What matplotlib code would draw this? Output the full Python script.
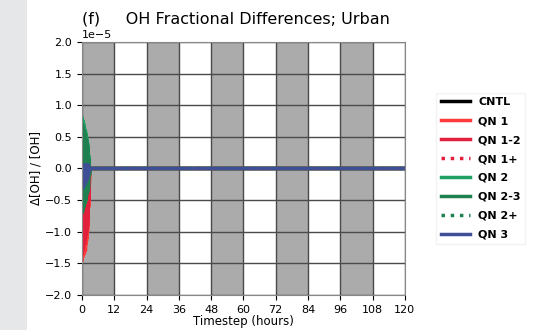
import numpy as np
import matplotlib
matplotlib.use("Agg")
from matplotlib import pyplot as plt
from matplotlib.patches import Rectangle

# time in hours (fast spin-up near t=0, then flat until 120 h)
hours = [0, 0.1, 0.2, 0.3, 0.4, 0.5, 0.6, 0.7, 0.8, 0.9, 1.0, 1.1, 1.2, 1.3, 1.4, 1.5,
         1.6, 1.7, 1.8, 1.9, 2.0, 2.1, 2.2, 2.3, 2.4, 2.6, 2.8, 3.0, 120]

# fractional differences, units of 1e-5
cntl = [0] * 29
qn1  = [0, -1.45, -0.4, -1.4, -0.35, -1.35, -0.45, -1.3, -0.4, -1.35, -0.5, -1.25, -0.45,
        -1.3, -0.5, -1.2, -0.4, -1.15, -0.45, -1.1, -0.35, -1.0, -0.4, -0.9, -0.3, -0.6, -0.2, 0, 0]
qn12 = [0, -1.35, -0.35, -1.3, -0.4, -1.25, -0.35, -1.2, -0.45, -1.2, -0.4, -1.15, -0.45,
        -1.1, -0.4, -1.05, -0.35, -1.0, -0.4, -0.95, -0.3, -0.9, -0.35, -0.8, -0.3, -0.5, -0.15, 0, 0]
qn1p = [0, -1.2, -0.3, -1.15, -0.35, -1.1, -0.3, -1.05, -0.35, -1.0, -0.3, -0.95, -0.35,
        -0.9, -0.3, -0.85, -0.3, -0.8, -0.3, -0.75, -0.25, -0.7, -0.25, -0.6, -0.2, -0.4, -0.1, 0, 0]
qn2  = [0, 0.8, -0.65, 0.75, -0.6, 0.75, -0.55, 0.7, -0.6, 0.65, -0.5, 0.6, -0.55,
        0.6, -0.45, 0.55, -0.5, 0.5, -0.4, 0.45, -0.4, 0.4, -0.35, 0.35, -0.3, 0.2, -0.1, 0, 0]
qn23 = [0, 0.7, -0.7, 0.65, -0.65, 0.65, -0.6, 0.6, -0.6, 0.55, -0.55, 0.55, -0.5,
        0.5, -0.5, 0.45, -0.45, 0.45, -0.4, 0.4, -0.4, 0.35, -0.35, 0.3, -0.3, 0.15, -0.1, 0, 0]
qn2p = [0, 0.6, -0.55, 0.55, -0.5, 0.55, -0.5, 0.5, -0.45, 0.5, -0.45, 0.45, -0.4,
        0.45, -0.4, 0.4, -0.35, 0.4, -0.35, 0.35, -0.3, 0.3, -0.3, 0.25, -0.2, 0.1, -0.05, 0, 0]
qn3  = [0, -0.3, 0.05, -0.3, 0.0, -0.3, 0.05, -0.25, 0.0, -0.25, 0.05, -0.25, 0.05,
        -0.2, 0.05, -0.2, 0.05, -0.2, 0.05, -0.15, 0.05, -0.15, 0.05, -0.1, 0.05, -0.05, 0, 0, 0]

labels = ["CNTL", "QN 1", "QN 1-2", "QN 1+", "QN 2", "QN 2-3", "QN 2+", "QN 3"]
colors = ["black", "#ff3a3a", "#e3203c", "#e3203c", "#1fa060", "#1f8050", "#1f8050", "#3f4f95"]
styles = ["-", "-", "-", ":", "-", "-", ":", "-"]
series = [cntl, qn1, qn12, qn1p, qn2, qn23, qn2p, qn3]

night_starts = [0, 24, 48, 72, 96]

fig = plt.figure(figsize=(5.39, 3.30), dpi=100)
# grey strip on the left of the screenshot
fig.patches.append(Rectangle((0, 0), 27 / 539, 1, transform=fig.transFigure,
                             facecolor="#e6e7e8", edgecolor="none", zorder=0))
ax = fig.add_axes([0.152, 0.106, 0.599, 0.767])

for s in night_starts:
    ax.axvspan(s, s + 12, color="#ababab", zorder=0, lw=0)

for vals, lab, c, ls in zip(series, labels, colors, styles):
    ax.plot(hours, np.array(vals) * 1e-5, color=c, linestyle=ls, linewidth=2.5, label=lab)

ax.set_xlim(0, 120)
ax.set_ylim(-2e-5, 2e-5)
ax.set_xticks(range(0, 121, 12))
ax.set_yticks(np.arange(-2, 2.01, 0.5) * 1e-5)
ax.grid(True, color="#4a4a4a", linewidth=1.0, zorder=1)
ax.set_axisbelow(True)
ax.tick_params(labelsize=8)
ax.yaxis.get_offset_text().set_fontsize(8)
for sp in ax.spines.values():
    sp.set_color("#888888")

ax.set_xlabel("Timestep (hours)", fontsize=8.5, labelpad=0)
ax.set_ylabel("Δ[OH] / [OH]", fontsize=8.5, labelpad=2)
ax.set_title("(f)     OH Fractional Differences; Urban", fontsize=11.5, pad=13, x=0.477)

leg = ax.legend(loc="center left", bbox_to_anchor=(1.08, 0.5), fontsize=8,
                handlelength=2.6, frameon=True, edgecolor="#f0f0f0", fancybox=False,
                labelspacing=0.8)
for t in leg.get_texts():
    t.set_fontweight("bold")

plt.savefig("out.png", dpi=100)
